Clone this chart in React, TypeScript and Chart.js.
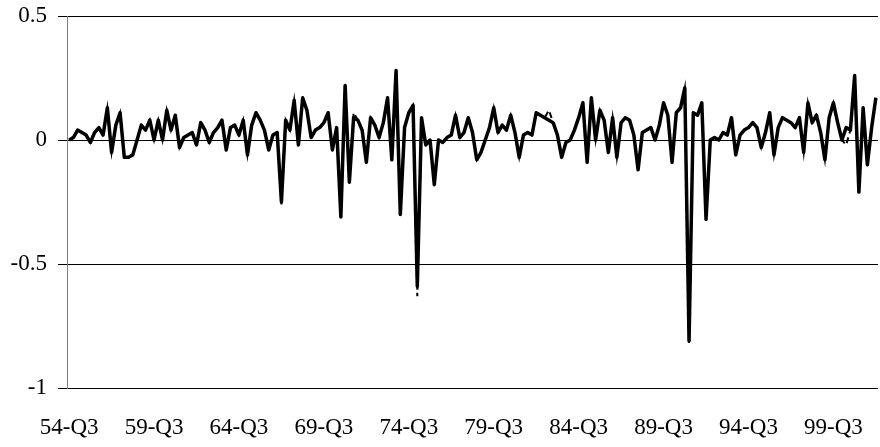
import { useEffect, useRef } from 'react';
import { Chart, registerables } from 'chart.js';

Chart.register(...registerables);

const START_YEAR = 1954;
const START_QUARTER = 3;
const POINT_COUNT = 191;
const LABEL_EVERY = 20;

const categories: string[] = [];
for (let k = 0; k < POINT_COUNT; k++) {
  const q = START_QUARTER - 1 + k;
  const year = START_YEAR + Math.floor(q / 4);
  categories.push(`${String(year % 100).padStart(2, '0')}-Q${(q % 4) + 1}`);
}

const yTickValues = [0.5, 0, -0.5, -1];

const actual = [
  0.00, 0.01, 0.04, 0.03, 0.02, -0.01, 0.03, 0.05, 0.02, 0.13,
  -0.05, 0.06, 0.11, -0.07, -0.07, -0.06, 0.00, 0.06, 0.04, 0.08,
  0.00, 0.08, 0.00, 0.12, 0.04, 0.10, -0.03, 0.01, 0.02, 0.03,
  -0.02, 0.07, 0.04, -0.01, 0.03, 0.05, 0.08, -0.04, 0.05, 0.06,
  0.02, 0.08, -0.06, 0.06, 0.11, 0.08, 0.04, -0.04, 0.02, 0.03,
  -0.25, 0.08, 0.04, 0.16, -0.02, 0.17, 0.12, 0.01, 0.04, 0.05,
  0.07, 0.11, -0.04, 0.05, -0.31, 0.22, -0.17, 0.09, 0.08, 0.04,
  -0.09, 0.09, 0.06, 0.01, 0.07, 0.17, -0.08, 0.28, -0.30, 0.05,
  0.11, 0.14, -0.59, 0.09, -0.02, 0.00, -0.18, 0.00, -0.01, 0.01,
  0.02, 0.10, 0.01, 0.03, 0.09, 0.03, -0.08, -0.05, 0.00, 0.05,
  0.13, 0.03, 0.06, 0.04, 0.10, 0.03, -0.07, 0.02, 0.03, 0.02,
  0.11, 0.10, 0.09, 0.08, 0.07, 0.02, -0.07, -0.01, 0.00, 0.04,
  0.09, 0.15, -0.09, 0.17, 0.00, 0.12, 0.08, -0.05, 0.09, -0.07,
  0.07, 0.09, 0.08, 0.02, -0.12, 0.03, 0.04, 0.05, 0.00, 0.06,
  0.15, 0.10, -0.09, 0.11, 0.13, 0.21, -0.81, 0.11, 0.10, 0.15,
  -0.32, 0.00, 0.01, 0.00, 0.03, 0.02, 0.09, -0.06, 0.02, 0.04,
  0.05, 0.07, 0.05, -0.03, 0.03, 0.11, -0.06, 0.05, 0.09, 0.08,
  0.07, 0.05, 0.09, -0.05, 0.15, 0.07, 0.10, 0.03, -0.08, 0.09,
  0.15, 0.07, 0.00, 0.05, 0.04, 0.26, -0.21, 0.13, -0.10, 0.05,
  0.17,
];

const fitted = [
  0.00, 0.01, 0.04, 0.03, 0.02, -0.01, 0.03, 0.05, 0.02, 0.13,
  -0.05, 0.06, 0.11, -0.07, -0.07, -0.06, 0.00, 0.06, 0.04, 0.08,
  0.00, 0.08, 0.00, 0.12, 0.04, 0.10, -0.03, 0.01, 0.02, 0.03,
  -0.02, 0.07, 0.04, -0.01, 0.03, 0.05, 0.08, -0.04, 0.05, 0.06,
  0.02, 0.08, -0.06, 0.06, 0.11, 0.08, 0.04, -0.04, 0.02, 0.03,
  -0.26, 0.08, 0.04, 0.16, -0.02, 0.17, 0.12, 0.01, 0.04, 0.05,
  0.07, 0.11, -0.04, 0.05, -0.31, 0.22, -0.17, 0.11, 0.08, 0.04,
  -0.09, 0.09, 0.06, 0.01, 0.07, 0.17, -0.08, 0.28, -0.30, 0.05,
  0.11, 0.14, -0.63, 0.09, -0.02, 0.00, -0.18, 0.00, -0.01, 0.01,
  0.02, 0.10, 0.01, 0.03, 0.09, 0.03, -0.08, -0.05, 0.00, 0.05,
  0.13, 0.03, 0.06, 0.04, 0.10, 0.03, -0.07, 0.02, 0.03, 0.02,
  0.11, 0.10, 0.09, 0.12, 0.07, 0.02, -0.07, -0.01, 0.00, 0.04,
  0.09, 0.15, -0.09, 0.17, 0.00, 0.12, 0.08, -0.05, 0.09, -0.07,
  0.07, 0.09, 0.08, 0.02, -0.12, 0.03, 0.04, 0.05, 0.00, 0.06,
  0.15, 0.10, -0.09, 0.11, 0.13, 0.21, -0.82, 0.11, 0.10, 0.15,
  -0.32, 0.00, 0.01, 0.00, 0.03, 0.02, 0.10, -0.06, 0.02, 0.04,
  0.05, 0.07, 0.05, -0.03, 0.03, 0.11, -0.06, 0.05, 0.09, 0.08,
  0.07, 0.05, 0.09, -0.05, 0.15, 0.07, 0.10, 0.03, -0.08, 0.09,
  0.15, 0.07, 0.00, -0.02, 0.04, 0.26, -0.21, 0.13, -0.10, 0.05,
  0.17,
];

const FONT_FAMILY = '"Liberation Serif", "Times New Roman", Times, serif';

export default function App() {
  const canvasRef = useRef<HTMLCanvasElement | null>(null);

  useEffect(() => {
    const canvas = canvasRef.current;
    if (!canvas) return;
    const chart = new Chart(canvas, {
      type: 'line',
      data: {
        labels: categories,
        datasets: [
          {
            label: 'Actual',
            data: actual,
            borderColor: '#000000',
            borderWidth: 3.5,
            borderJoinStyle: 'round',
            pointRadius: 0,
            tension: 0,
            fill: false,
          },
          {
            label: 'Fitted',
            data: fitted,
            borderColor: '#000000',
            borderWidth: 2,
            borderDash: [6, 4],
            pointRadius: 0,
            tension: 0,
            fill: false,
          },
        ],
      },
      options: {
        animation: false,
        responsive: false,
        maintainAspectRatio: false,
        layout: { padding: { top: 16, right: 2, left: 0, bottom: 0 } },
        plugins: { legend: { display: false }, tooltip: { enabled: false } },
        scales: {
          x: {
            type: 'category',
            offset: true,
            grid: { display: false, drawTicks: false },
            border: { display: false },
            ticks: {
              autoSkip: false,
              maxRotation: 0,
              minRotation: 0,
              padding: 26,
              color: '#000000',
              font: { family: FONT_FAMILY, size: 23 },
              callback: (_v: any, i: number) => (i % LABEL_EVERY === 0 ? categories[i] : ''),
            },
            afterFit: (s: any) => {
              s.height = 59;
              s.paddingLeft = 0;
              s.paddingRight = 0;
              s.paddingTop = 0;
              s.paddingBottom = 0;
            },
          },
          y: {
            min: -1,
            max: 0.5,
            afterBuildTicks: (s: any) => {
              s.ticks = yTickValues.map((v) => ({ value: v }));
            },
            ticks: {
              padding: 11,
              color: '#000000',
              font: { family: FONT_FAMILY, size: 23 },
              callback: (v: any) => String(v),
            },
            grid: { color: '#000000', lineWidth: 1, drawTicks: true, tickLength: 9 },
            border: { display: true, color: '#808080', width: 1 },
            afterFit: (s: any) => {
              s.width = 67;
              s.paddingLeft = 0;
              s.paddingRight = 0;
              s.paddingTop = 0;
              s.paddingBottom = 0;
            },
          },
        },
      },
    });
    return () => chart.destroy();
  }, []);

  return (
    <div style={{ position: 'fixed', left: 0, top: 0, width: 880, height: 447, background: '#fff' }}>
      <canvas ref={canvasRef} width={880} height={447} style={{ width: 880, height: 447, display: 'block' }} />
    </div>
  );
}
